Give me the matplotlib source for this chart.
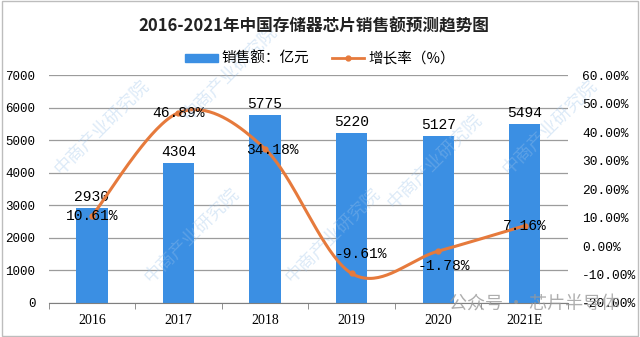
import matplotlib.pyplot as plt
import numpy as np
from matplotlib.patches import Rectangle
from matplotlib.lines import Line2D

plt.rcParams['font.family'] = ['Noto Sans CJK SC', 'DejaVu Sans']

years = ["2016", "2017", "2018", "2019", "2020", "2021E"]
sales = [2930, 4304, 5775, 5220, 5127, 5494]          # 亿元
growth = [10.61, 46.89, 34.18, -9.61, -1.78, 7.16]    # %

bar_color = "#3B8FE3"
line_color = "#E67A3C"
grid_color = "#9C9C9C"
num_font = "Liberation Mono"


def smooth(xs, ys, n=40):
    # bezier smoothing like a spreadsheet "smoothed line"
    p = np.column_stack([xs, ys]).astype(float)
    p = np.vstack([p[0], p, p[-1]])
    out = []
    for i in range(1, len(p) - 2):
        p0, p1 = p[i], p[i + 1]
        c1 = p0 + (p[i + 1] - p[i - 1]) / 6
        c2 = p1 - (p[i + 2] - p[i]) / 6
        t = np.linspace(0, 1, n)[:, None]
        seg = ((1 - t) ** 3) * p0 + 3 * ((1 - t) ** 2) * t * c1 + 3 * (1 - t) * t ** 2 * c2 + t ** 3 * p1
        out.append(seg if i == 1 else seg[1:])
    seg = np.vstack(out)
    return seg[:, 0], seg[:, 1]


fig = plt.figure(figsize=(6.4, 3.37), dpi=100)
fig.patches.append(Rectangle((0.003, 0.003), 0.994, 0.994, transform=fig.transFigure,
                             fill=False, edgecolor="#BDBDBD", lw=1))
ax = fig.add_axes([0.076, 0.101, 0.8115, 0.675])
ax2 = ax.twinx()

x = np.arange(len(years))
ax.bar(x, sales, width=0.36, color=bar_color, zorder=2)
ax.set_xlim(-0.5, len(years) - 0.5)
ax.set_ylim(0, 7000)
ax.set_yticks(range(0, 7001, 1000))
ax.grid(axis="y", color=grid_color, lw=0.9, zorder=0)
ax.set_axisbelow(True)
for s in ["top", "left", "right"]:
    ax.spines[s].set_visible(False)
ax.spines["bottom"].set_color("#7F7F7F")
ax.set_xticks(x)
ax.set_xticklabels(years, fontfamily="Liberation Serif", fontsize=10)
ax.set_xticks(np.arange(-0.5, len(years), 1), minor=True)
ax.tick_params(axis="x", which="major", length=0, pad=8)
ax.tick_params(axis="x", which="minor", length=4, color="#7F7F7F")
ax.tick_params(axis="y", length=0, pad=9.5)
for lab in ax.get_yticklabels():
    lab.set_fontfamily(num_font)
    lab.set_fontsize(9)

for xi, v in zip(x, sales):
    ax.annotate(str(v), (xi, v), xytext=(0, 8), textcoords="offset points",
                ha="center", va="center", fontfamily=num_font, fontsize=10.5, zorder=5)

sx, sy = smooth(x, growth)
ax2.plot(sx, sy, color=line_color, lw=2.2, zorder=3)
ax2.plot(x, growth, "o", color=line_color, ms=3.5, zorder=4)
ax2.set_ylim(-20, 60)
ax2.set_yticks(range(-20, 61, 10))
ax2.set_yticklabels([f"{v:.2f}%" for v in range(-20, 61, 10)], fontfamily=num_font, fontsize=9.3)
ax2.tick_params(axis="y", length=0, pad=10)
for s in ["top", "left", "right", "bottom"]:
    ax2.spines[s].set_visible(False)

# offsets of growth labels (points)
offsets = [(0, 0), (0, 0), (5, -1), (7, 14), (4, -11), (0, 0)]
for xi, g, (dx, dy) in zip(x, growth, offsets):
    ax2.annotate(f"{g:.2f}%", (xi, g), xytext=(dx, dy), textcoords="offset points",
                 ha="center", va="center", fontfamily=num_font, fontsize=10.5, zorder=6)

fig.text(0.49, 0.922, "2016-2021年中国存储器芯片销售额预测趋势图", ha="center", va="center",
         fontsize=12, fontweight="bold", color="#222222")

handles = [Rectangle((0, 0), 1, 1, color=bar_color),
           Line2D([0], [0], color=line_color, lw=2, marker="o", ms=3.5)]
fig.legend(handles, ["销售额：亿元", "增长率（%）"], loc="center", bbox_to_anchor=(0.5, 0.825),
           ncol=2, frameon=False, fontsize=10.5, handlelength=2.2, handleheight=0.5,
           columnspacing=1.5, handletextpad=0.3)

# faint diagonal watermarks
for wx, wy in [(0.16, 0.62), (0.36, 0.78), (0.52, 0.30), (0.68, 0.52), (0.86, 0.62), (0.30, 0.30)]:
    fig.text(wx, wy, "中商产业研究院", rotation=45, ha="center", va="center",
             fontsize=13, color="#9CC3EA", alpha=0.35, zorder=0)

fig.text(0.835, 0.095, "公众号 · 芯片半导体", ha="center", va="center",
         fontsize=13, color="#9A9A9A", alpha=0.8)

fig.savefig("out.png", dpi=100)
